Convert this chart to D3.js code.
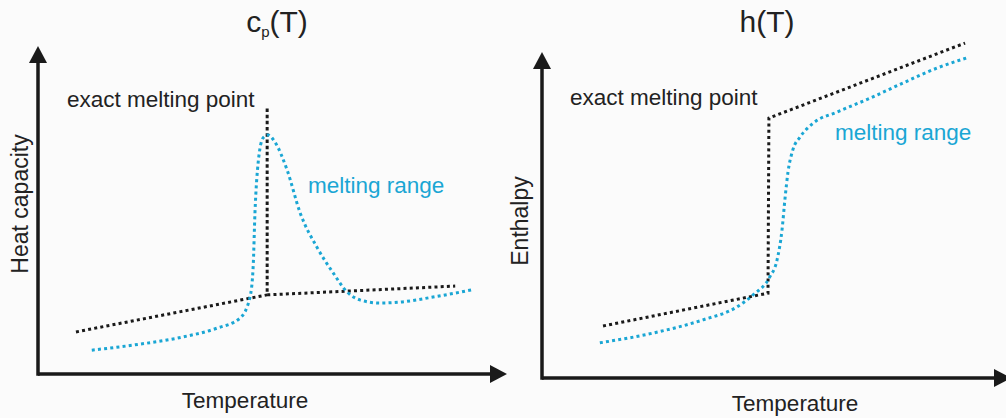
<!DOCTYPE html>
<html>
<head>
<meta charset="utf-8">
<script src="https://cdn.jsdelivr.net/npm/d3@7"></script>
<style>
  body { margin: 0; background: #fbfbfb; }
  text { font-family: "Liberation Sans", Arial, sans-serif; fill: #222; }
  .dots { fill: none; stroke-width: 3; stroke-dasharray: 3 3.2; }
</style>
</head>
<body>
<script>
// temperature / value pairs (arbitrary units, 0-100)
const cpExactT = [8.4, 50.7, 50.7, 50.7, 92.3];
const cpExactV = [13.4, 25.2, 85.0, 25.2, 28.0];

const cpRangeT = [11.9, 21.0, 32.1, 39.6, 44.7, 46.9, 47.6, 48.0, 48.7, 49.8, 50.9, 52.4, 55.1, 58.0, 61.7, 65.3, 68.4, 71.2, 75.7, 80.1, 87.4, 96.0];
const cpRangeV = [7.6, 9.2, 11.8, 14.6, 17.8, 24.5, 34.1, 51.3, 67.2, 75.2, 76.1, 73.9, 65.0, 51.3, 40.4, 32.2, 26.1, 23.6, 22.6, 22.9, 24.5, 26.8];

const hExactT = [13.5, 50.0, 50.2, 93.6];
const hExactV = [15.4, 25.1, 76.9, 99.1];

const hRangeT = [12.8, 24.6, 35.6, 43.1, 46.7, 50.4, 52.0, 53.1, 53.8, 54.4, 55.5, 57.1, 60.0, 65.3, 72.6, 79.9, 87.4, 94.0];
const hRangeV = [10.4, 13.3, 17.2, 21.0, 24.6, 29.9, 34.9, 43.8, 53.6, 60.7, 67.5, 71.3, 75.4, 78.7, 82.8, 87.3, 91.7, 94.7];

const black = "#1a1a1a";
const cyan = "#1aa6d4";

const svg = d3.select("body").append("svg")
    .attr("width", 1006)
    .attr("height", 418);

const zip = (ts, vs) => ts.map((t, i) => ({ t: t, v: vs[i] }));

function drawPanel(p) {
    const x = d3.scaleLinear().domain([0, 100]).range(p.xRange);
    const y = d3.scaleLinear().domain([0, 100]).range(p.yRange);
    const g = svg.append("g");

    // axes with arrow heads
    const x0 = p.xRange[0], y0 = p.yRange[0];
    g.append("line")
        .attr("x1", x0).attr("y1", y0)
        .attr("x2", p.xTip - 14).attr("y2", y0)
        .attr("stroke", black).attr("stroke-width", 3.5);
    g.append("line")
        .attr("x1", x0).attr("y1", y0 + 1.75)
        .attr("x2", x0).attr("y2", p.yTip + 14)
        .attr("stroke", black).attr("stroke-width", 3.5);
    g.append("path")
        .attr("d", `M${p.xTip},${y0} L${p.xTip - 17},${y0 - 9} L${p.xTip - 17},${y0 + 9} Z`)
        .attr("fill", black);
    g.append("path")
        .attr("d", `M${x0},${p.yTip} L${x0 - 9},${p.yTip + 17} L${x0 + 9},${p.yTip + 17} Z`)
        .attr("fill", black);

    // dotted curves
    g.append("path")
        .datum(zip(p.exactT, p.exactV))
        .attr("class", "dots")
        .attr("stroke", black)
        .attr("d", d3.line().x(d => x(d.t)).y(d => y(d.v)));

    g.append("path")
        .datum(zip(p.rangeT, p.rangeV))
        .attr("class", "dots")
        .attr("stroke", cyan)
        .attr("d", d3.line().curve(d3.curveMonotoneX).x(d => x(d.t)).y(d => y(d.v)));

    // labels
    const title = g.append("text")
        .attr("x", p.titleX).attr("y", 32)
        .attr("text-anchor", "middle")
        .attr("font-size", 30);
    title.append("tspan").text(p.title[0]);
    if (p.title[1]) {
        title.append("tspan").attr("font-size", 15).attr("dy", 5).text(p.title[1]);
        title.append("tspan").attr("dy", -5).text(p.title[2]);
    }

    g.append("text")
        .attr("transform", `translate(${p.yLabel[0]},${p.yLabel[1]}) rotate(-90)`)
        .attr("text-anchor", "middle")
        .attr("font-size", 23)
        .text(p.yText);

    g.append("text")
        .attr("x", p.xLabel[0]).attr("y", p.xLabel[1])
        .attr("text-anchor", "middle")
        .attr("font-size", 22.5)
        .text("Temperature");

    g.append("text")
        .attr("x", p.exactLabel[0]).attr("y", p.exactLabel[1])
        .attr("font-size", 22.5)
        .text("exact melting point");

    g.append("text")
        .attr("x", p.rangeLabel[0]).attr("y", p.rangeLabel[1])
        .attr("font-size", 22.5)
        .style("fill", cyan)
        .text("melting range");
}

drawPanel({
    xRange: [38, 490], yRange: [374, 60], xTip: 507, yTip: 46,
    exactT: cpExactT, exactV: cpExactV, rangeT: cpRangeT, rangeV: cpRangeV,
    title: ["c", "p", "(T)"], titleX: 277,
    yText: "Heat capacity", yLabel: [28, 204],
    xLabel: [245, 408], exactLabel: [67, 107], rangeLabel: [308, 193]
});

drawPanel({
    xRange: [542, 994], yRange: [378, 40], xTip: 1011, yTip: 52,
    exactT: hExactT, exactV: hExactV, rangeT: hRangeT, rangeV: hRangeV,
    title: ["h(T)"], titleX: 767,
    yText: "Enthalpy", yLabel: [528, 221],
    xLabel: [795, 411], exactLabel: [570, 105], rangeLabel: [835, 140]
});
</script>
</body>
</html>
